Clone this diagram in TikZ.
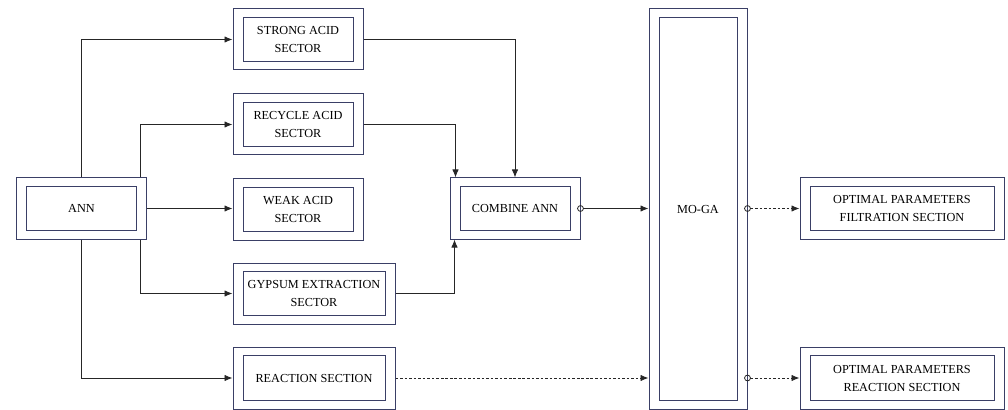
\documentclass[tikz,border=0pt]{standalone}
\usepackage{fontspec}
\setmainfont{Liberation Serif}
\usetikzlibrary{arrows.meta,calc}
\definecolor{boxnavy}{HTML}{3A3F66}
\tikzset{
  sectorbox/.style={draw=boxnavy,line width=0.75pt,inner sep=0pt,
    minimum width=97.5pt,minimum height=45.75pt,align=center,
    font=\fontsize{9.2}{13.5}\selectfont,
    path picture={\draw[boxnavy,line width=0.75pt]
      ([shift={(7.5pt,6.6pt)}]path picture bounding box.south west) rectangle
      ([shift={(-7.5pt,-6.6pt)}]path picture bounding box.north east);}},
  flow/.style={draw=black!85,line width=0.6pt,-{Latex[length=6pt,width=4.8pt]}},
  dotflow/.style={flow,dash pattern=on 2pt off 1.4pt},
  ringstart/.style={{Circle[open,length=5pt,width=5pt,line width=0.6pt]}-{Latex[length=6pt,width=4.8pt]},shorten <=-2.5pt}
}

\begin{document}
\begin{tikzpicture}[x=0.75pt,y=-0.75pt]
	\useasboundingbox (0,0) rectangle (1008,410);
	% models
	\node[sectorbox] at (81.5,208.5) (ann) {ANN};
	\node[sectorbox] at (298,39.5) (strong) {STRONG ACID\\SECTOR};
	\node[sectorbox] at (298,124.5) (recycle) {RECYCLE ACID\\SECTOR};
	\node[sectorbox] at (298,209.5) (weak) {WEAK ACID\\SECTOR};
	\node[sectorbox,minimum width=121.5pt] at (314,293.5) (gypsum) {GYPSUM EXTRACTION\\SECTOR};
	\node[sectorbox,minimum width=121.5pt,minimum height=46.5pt] at (314,378) (reaction) {REACTION SECTION};
	\node[sectorbox] at (515,208.5) (combine) {COMBINE ANN};
	\node[sectorbox,minimum width=73.5pt,minimum height=300pt] at (698,209) (moga) {MO-GA};
	\node[sectorbox,minimum width=153pt] at (902,208.5) (optfilt) {OPTIMAL PARAMETERS\\FILTRATION SECTION};
	\node[sectorbox,minimum width=153pt,minimum height=46.5pt] at (902,378) (optreac) {OPTIMAL PARAMETERS\\REACTION SECTION};
	% ANN to sectors
	\draw[flow] (ann.north) |- (strong.west);
	\draw[flow] ($(ann.north)+(58.5,0)$) |- (recycle.west);
	\draw[flow] (ann.east) -- (weak.west |- ann.east);
	\draw[flow] ($(ann.south)+(58.5,0)$) |- (gypsum.west);
	\draw[flow] (ann.south) |- (reaction.west);
	% sectors to combine
	\draw[flow] (strong.east) -| (combine.north);
	\draw[flow] (recycle.east) -| ($(combine.north west)+(6,0)$);
	\draw[flow] (gypsum.east) -| ($(combine.south west)+(5,0)$);
	% optimisation
	\draw[flow,ringstart] (combine.east) -- (moga.west |- combine.east);
	\draw[dotflow] (reaction.east) -- (moga.west |- reaction.east);
	\draw[dotflow,ringstart] (moga.east |- optfilt.west) -- (optfilt.west);
	\draw[dotflow,ringstart] (moga.east |- optreac.west) -- (optreac.west);
\end{tikzpicture}
\end{document}
